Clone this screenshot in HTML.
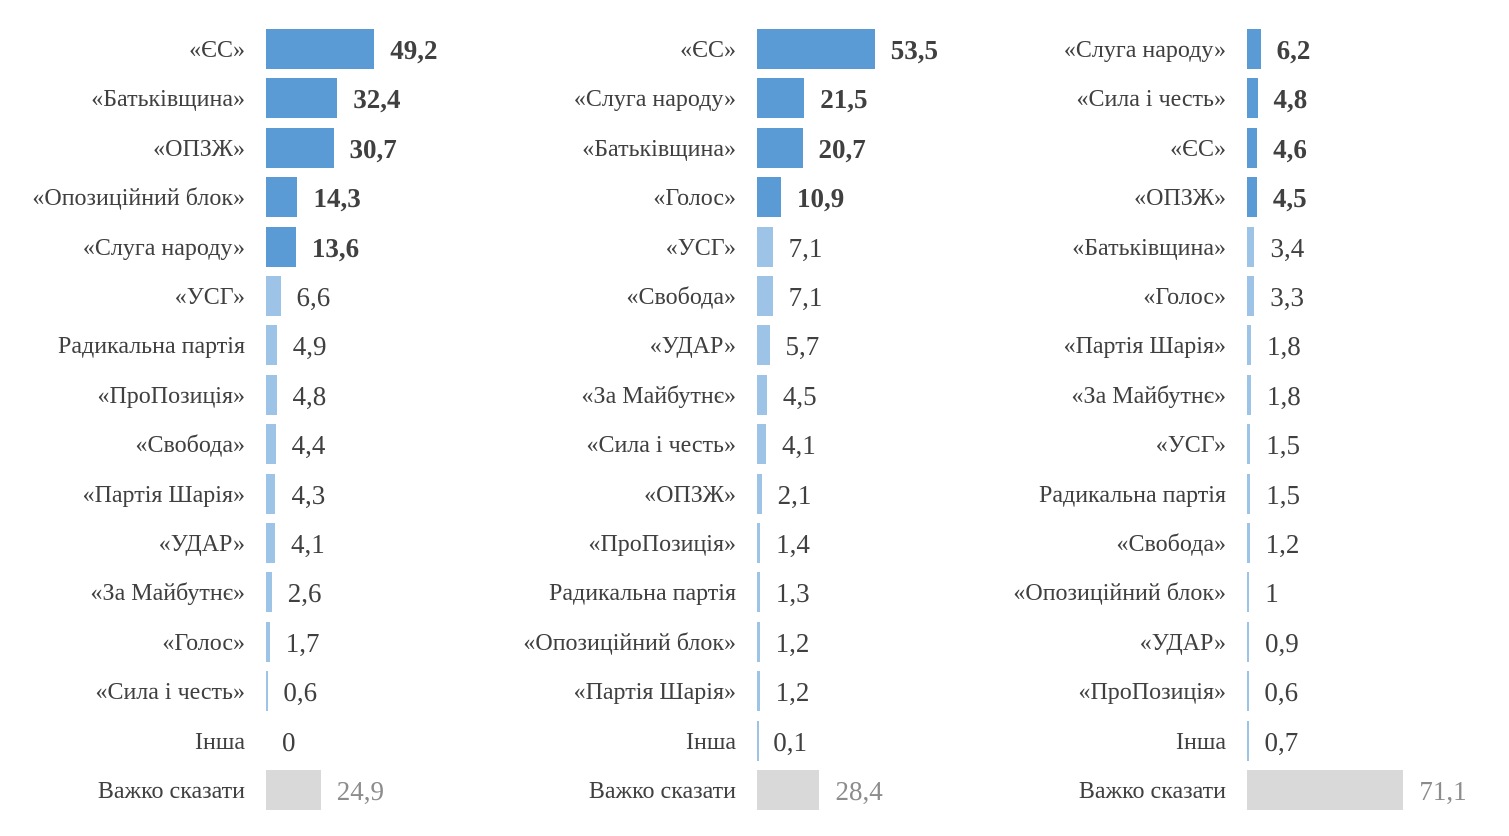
<!DOCTYPE html>
<html><head><meta charset="utf-8">
<style>
html,body{margin:0;padding:0;background:#fff;}
body{width:1509px;height:836px;position:relative;overflow:hidden;font-family:"Liberation Serif",serif;}
.lbl{position:absolute;font-size:24px;color:#404040;text-align:right;white-space:nowrap;line-height:28px;}
.val{position:absolute;font-size:27px;color:#404040;white-space:nowrap;line-height:30px;}
.bar{position:absolute;}
</style></head>
<body>
<div id="chart"></div>
<script>
const labels1 = ["«ЄС»","«Батьківщина»","«ОПЗЖ»","«Опозиційний блок»","«Слуга народу»","«УСГ»","Радикальна партія","«ПроПозиція»","«Свобода»","«Партія Шарія»","«УДАР»","«За Майбутнє»","«Голос»","«Сила і честь»","Інша","Важко сказати"];
const values1 = [49.2,32.4,30.7,14.3,13.6,6.6,4.9,4.8,4.4,4.3,4.1,2.6,1.7,0.6,0,24.9];
const labels2 = ["«ЄС»","«Слуга народу»","«Батьківщина»","«Голос»","«УСГ»","«Свобода»","«УДАР»","«За Майбутнє»","«Сила і честь»","«ОПЗЖ»","«ПроПозиція»","Радикальна партія","«Опозиційний блок»","«Партія Шарія»","Інша","Важко сказати"];
const values2 = [53.5,21.5,20.7,10.9,7.1,7.1,5.7,4.5,4.1,2.1,1.4,1.3,1.2,1.2,0.1,28.4];
const labels3 = ["«Слуга народу»","«Сила і честь»","«ЄС»","«ОПЗЖ»","«Батьківщина»","«Голос»","«Партія Шарія»","«За Майбутнє»","«УСГ»","Радикальна партія","«Свобода»","«Опозиційний блок»","«УДАР»","«ПроПозиція»","Інша","Важко сказати"];
const values3 = [6.2,4.8,4.6,4.5,3.4,3.3,1.8,1.8,1.5,1.5,1.2,1,0.9,0.6,0.7,71.1];

const chart = document.getElementById('chart');
const scale = 2.2;
const rowY = i => 49 + i*49.4;
function fmt(v){return String(v).replace('.',',');}
function panel(labels, values, axisX, pIdx){
  labels.forEach((lab,i)=>{
    const v = values[i];
    const cy = rowY(i);
    const last = i === labels.length-1;
    const dark = i < 4 || (pIdx===1 && i===4);
    const l = document.createElement('div');
    l.className='lbl';
    
    
    l.style.right = (1509 - (axisX-21)) + 'px';
    l.style.top = (cy-13)+'px';
    l.textContent = lab;
    chart.appendChild(l);
    const w = v*scale;
    const b = document.createElement('div');
    b.className='bar';
    
    
    b.style.left = axisX+'px';
    b.style.top = (cy-20)+'px';
    b.style.height='40px';
    b.style.width = (v>0 ? Math.max(w,1.5) : 0)+'px';
    b.style.background = last ? '#d9d9d9' : (dark ? '#5b9bd5' : '#9dc3e6');
    chart.appendChild(b);
    const t = document.createElement('div');
    t.className='val';
    
    
    t.style.left = (axisX + w + 16)+'px';
    t.style.top = (cy-14)+'px';
    t.textContent = fmt(v);
    if(dark){t.style.fontWeight='bold';}
    if(last){t.style.color='#8c8c8c';}
    chart.appendChild(t);
  });
}
panel(labels1, values1, 266, 1);
panel(labels2, values2, 757, 2);
panel(labels3, values3, 1247, 3);
</script>
</body></html>
